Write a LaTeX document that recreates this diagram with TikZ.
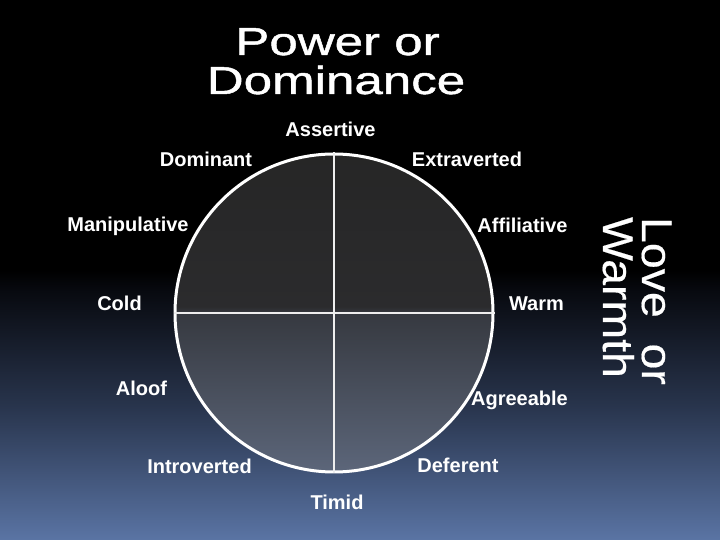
\documentclass[tikz,border=0pt]{standalone}
\usepackage{fontspec}
\setmainfont{Liberation Sans}
\newfontfamily\titlefont[FakeStretch=1.31, FakeBold=1.2]{Liberation Sans}
\newfontfamily\sidefont[FakeStretch=1.08, FakeBold=0.4]{Liberation Sans}
\usetikzlibrary{positioning}

\definecolor{bgbot}{RGB}{90,116,164}
\definecolor{bgmid}{RGB}{40,52,76}
\definecolor{bgdark}{RGB}{8,10,16}
\definecolor{wheeltop}{RGB}{38,38,38}
\definecolor{wheelhalf}{RGB}{43,43,45}
\definecolor{wheelmid}{RGB}{54,57,64}
\definecolor{wheelbot}{RGB}{92,102,122}
\definecolor{spoke}{RGB}{238,238,238}

\pgfdeclareverticalshading{slidebg}{100bp}{color(0bp)=(bgbot); color(25bp)=(bgbot);
  color(37.5bp)=(bgmid); color(48bp)=(bgdark); color(50bp)=(black); color(100bp)=(black)}
\pgfdeclareverticalshading{wheelfill}{100bp}{color(0bp)=(wheelbot); color(25bp)=(wheelbot);
  color(50bp)=(wheelmid); color(51bp)=(wheelhalf); color(75bp)=(wheeltop); color(100bp)=(wheeltop)}

\begin{document}
\begin{tikzpicture}[x=1pt, y=1pt,
    lbl/.style={text=white, font=\bfseries\fontsize{20}{22}\selectfont,
                inner sep=0pt, anchor=base},
    spokeline/.style={spoke, line width=2pt}]
  \useasboundingbox (0,0) rectangle (720,540);
  % Background
  \shade[shading=slidebg] (0,0) rectangle (720,540);

  % Title
  \node[text=white, font=\titlefont\fontsize{39}{39}\selectfont, anchor=base]
    (title1) at (337.5,485) {Power or};
  \node[text=white, font=\titlefont\fontsize{39}{39}\selectfont, anchor=base]
    (title2) at (336,446) {Dominance};

  % Wheel
  \node[circle, minimum size=318pt, inner sep=0pt, draw=white, line width=3pt,
        shade, shading=wheelfill] (wheel) at (334,227) {};
  \draw[spokeline] (wheel.west) -- (wheel.east);
  \draw[spokeline] (wheel.north) -- (wheel.south);

  % Labels round the wheel
  \foreach \name/\x/\y/\txt in {assert/330.5/403/Assertive, dom/206/373/Dominant,
      extra/467/373/Extraverted, manip/128/308/Manipulative, affil/522.5/307/Affiliative,
      cold/119.5/229/Cold, warm/536.5/229/Warm, aloof/141.5/144/Aloof,
      agree/519.5/134/Agreeable, intro/199.5/66/Introverted, defer/458/67/Deferent,
      timid/337/30/Timid}
    \node[lbl] (\name) at (\x,\y) {\txt};

  % Side axis
  \node[text=white, font=\sidefont\fontsize{43}{43}\selectfont, rotate=-90, anchor=base]
    (love) at (642,239) {Love\ \ or};
  \node[text=white, font=\sidefont\fontsize{43}{43}\selectfont, rotate=-90, anchor=base]
    (warmth) at (603,242.5) {Warmth};
\end{tikzpicture}
\end{document}
